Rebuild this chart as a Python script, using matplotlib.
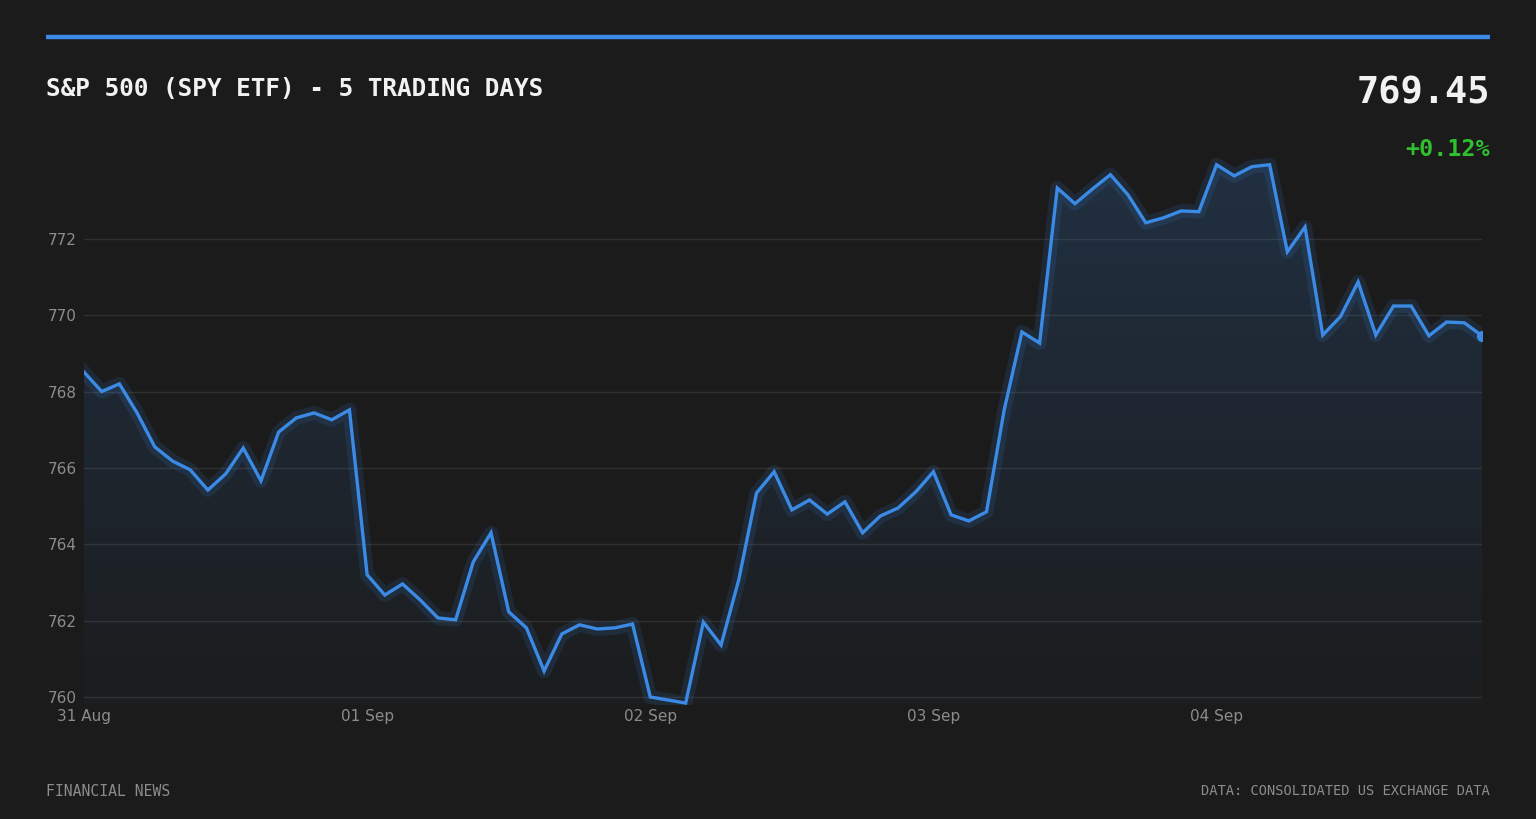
import numpy as np
import matplotlib
matplotlib.use("Agg")
import matplotlib.pyplot as plt
from matplotlib.colors import LinearSegmentedColormap

# ---- data ----
prices = [
    768.51, 768.00, 768.20, 767.44, 766.55, 766.18, 765.95, 765.42,
    765.84, 766.52, 765.66, 766.94, 767.31, 767.44, 767.26, 767.52,
    763.20, 762.67, 762.96, 762.54, 762.07, 762.02, 763.54, 764.30,
    762.23, 761.81, 760.68, 761.65, 761.89, 761.78, 761.81, 761.91,
    760.00, 759.92, 759.84, 761.96, 761.36, 763.07, 765.34, 765.90,
    764.90, 765.16, 764.79, 765.11, 764.30, 764.74, 764.95, 765.37,
    765.90, 764.77, 764.61, 764.85, 767.52, 769.56, 769.27, 773.33,
    772.92, 773.31, 773.68, 773.15, 772.42, 772.55, 772.73, 772.71,
    773.94, 773.65, 773.89, 773.94, 771.66, 772.31, 769.48, 769.96,
    770.87, 769.48, 770.24, 770.24, 769.46, 769.82, 769.80, 769.46,
]
day_labels = ["31 Aug", "01 Sep", "02 Sep", "03 Sep", "04 Sep"]
day_tick_idx = [0, 16, 32, 48, 64]
y_ticks = [760, 762, 764, 766, 768, 770, 772]
title = "S&P 500 (SPY ETF) - 5 TRADING DAYS"
last_price = "769.45"
change = "+0.12%"
footer_left = "FINANCIAL NEWS"
footer_right = "DATA: CONSOLIDATED US EXCHANGE DATA"

BG = "#1b1b1b"
BLUE = "#3a8ae6"
GRID = "#303030"
TICK = "#8c8c8c"
GREEN = "#2fbf2f"

x = np.arange(len(prices))
y = np.array(prices)

fig = plt.figure(figsize=(15.36, 8.19), dpi=100, facecolor=BG)
ax = fig.add_axes([84/1536, 1 - 704.6/819, (1482-84)/1536, (704.6-151)/819])
ax.set_facecolor(BG)

ymin, ymax = 759.8, 774.3
ax.set_xlim(0, len(prices) - 1)
ax.set_ylim(ymin, ymax)

# gradient fill
cmap = LinearSegmentedColormap.from_list(
    "g", [(0.23, 0.54, 0.9, 0.02), (0.23, 0.54, 0.9, 0.19)])
grad = np.linspace(0, 1, 256).reshape(-1, 1)
im = ax.imshow(grad, cmap=cmap, aspect="auto", origin="lower",
               extent=[0, len(prices) - 1, ymin, 774.0], zorder=1)
poly = ax.fill_between(x, y, ymin, color="none", lw=0)
path = poly.get_paths()[0]
im.set_clip_path(path, transform=ax.transData)

# grid
ax.set_yticks(y_ticks)
ax.yaxis.grid(True, color=GRID, lw=1.0, zorder=0)
ax.xaxis.grid(False)
ax.set_axisbelow(True)

# glow + line
ax.plot(x, y, color=BLUE, lw=10, alpha=0.13, solid_joinstyle="round", zorder=3)
ax.plot(x, y, color=BLUE, lw=2.4, solid_joinstyle="miter", zorder=4)
ax.plot([x[-1]], [y[-1]], "o", color=BLUE, ms=7, zorder=5, clip_on=True)

for s in ax.spines.values():
    s.set_visible(False)
ax.set_xticks(day_tick_idx)
ax.set_xticklabels(day_labels)
ax.tick_params(axis="both", length=0, colors=TICK, labelsize=11)
ax.tick_params(axis="x", pad=3.5)
ax.tick_params(axis="y", pad=5)

# header bar
fig.add_artist(plt.Line2D([46/1536, 1490/1536], [1 - 37/819, 1 - 37/819],
                          color=BLUE, lw=3.2, solid_capstyle="butt"))

fig.text(46/1536, 1 - 89/819, title, color="#f2f2f2", fontsize=17.6,
         family="DejaVu Sans Mono", weight="bold", ha="left", va="center")
fig.text(1490/1536, 1 - 93/819, last_price, color="#f2f2f2", fontsize=26.6,
         family="DejaVu Sans Mono", weight="bold", ha="right", va="center")
fig.text(1490/1536, 1 - 149/819, change, color=GREEN, fontsize=16.8,
         family="DejaVu Sans Mono", weight="bold", ha="right", va="center")
fig.text(46/1536, 1 - 791/819, footer_left, color=TICK, fontsize=10.6,
         family="DejaVu Sans Mono", ha="left", va="center")
fig.text(1490/1536, 1 - 791/819, footer_right, color=TICK, fontsize=9.95,
         family="DejaVu Sans Mono", ha="right", va="center")

fig.savefig("out.png", dpi=100, facecolor=BG)
